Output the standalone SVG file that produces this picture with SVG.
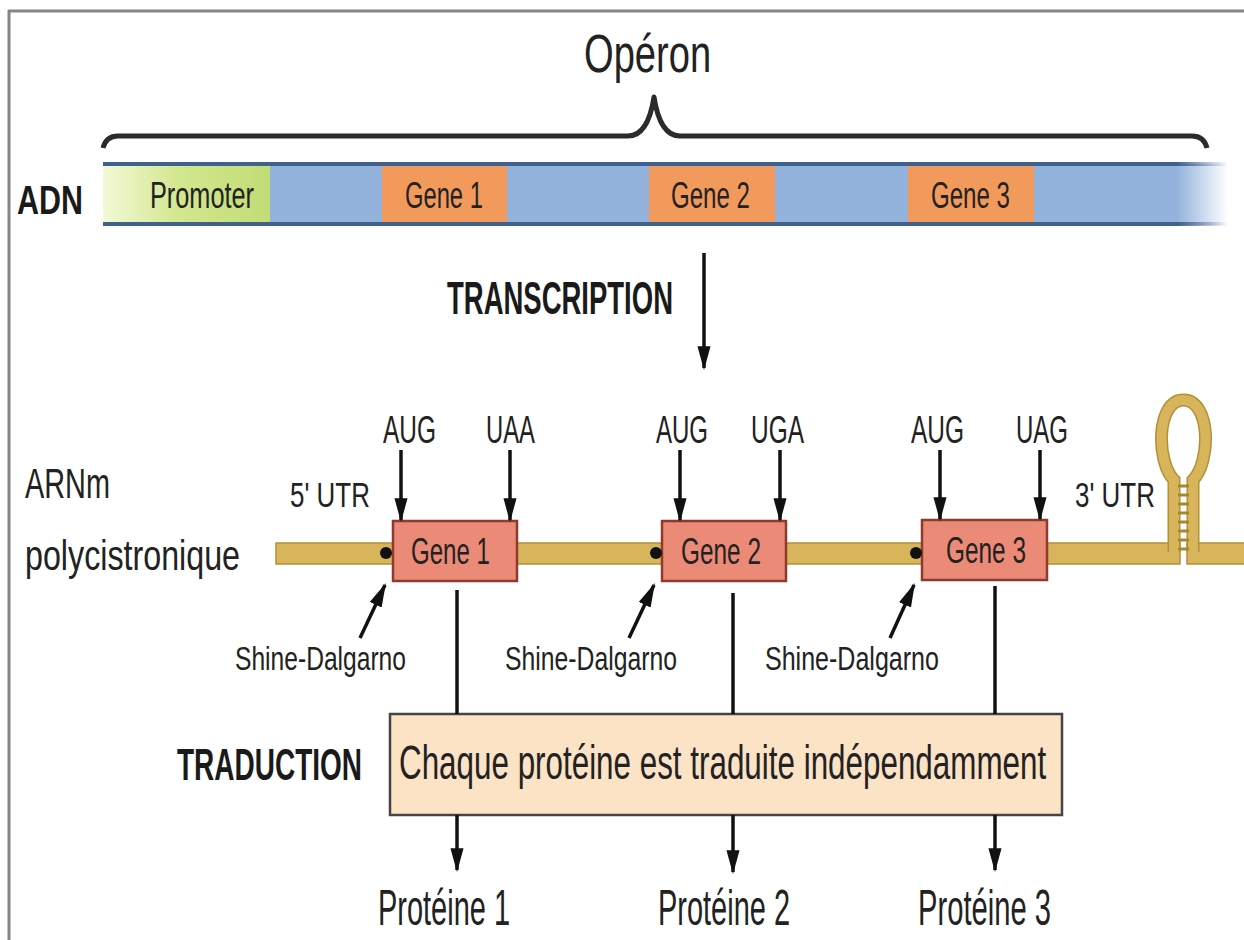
<svg xmlns="http://www.w3.org/2000/svg" width="1244" height="940" viewBox="0 0 1244 940">
<style>
.lbl{font-family:"Liberation Sans",Arial,sans-serif;fill:#222}
.bold{font-family:"Liberation Sans",Arial,sans-serif;font-weight:bold;fill:#1a1a1a}
.arr{stroke:#111;stroke-width:3.5;fill:none;marker-end:url(#ah)}
.line{stroke:#111;stroke-width:3.5;fill:none}
.gbox{fill:#ec8a78;stroke:#8e3a2c;stroke-width:2.5}
.dgene{fill:#f29a5c}
</style>
<defs>
<marker id="ah" markerUnits="userSpaceOnUse" markerWidth="24" markerHeight="16" viewBox="0 -7 22 14" refX="20" refY="0" orient="auto">
<path d="M0,-6 L22,0 L0,6 z" fill="#111"/>
</marker>
<linearGradient id="dnaG" gradientUnits="userSpaceOnUse" x1="103" y1="0" x2="1228" y2="0">
<stop offset="0" stop-color="#94b3dc"/>
<stop offset="0.955" stop-color="#94b3dc"/>
<stop offset="1" stop-color="#94b3dc" stop-opacity="0"/>
</linearGradient>
<linearGradient id="edgeG" gradientUnits="userSpaceOnUse" x1="103" y1="0" x2="1228" y2="0">
<stop offset="0" stop-color="#40618f"/>
<stop offset="0.955" stop-color="#40618f"/>
<stop offset="1" stop-color="#40618f" stop-opacity="0"/>
</linearGradient>
<linearGradient id="promG" gradientUnits="userSpaceOnUse" x1="103" y1="0" x2="270" y2="0">
<stop offset="0" stop-color="#f3f8d6"/>
<stop offset="0.45" stop-color="#d3e78f"/>
<stop offset="1" stop-color="#c2dc76"/>
</linearGradient>
</defs>

<rect width="1244" height="940" fill="#fff"/>
<g id="frame">
<line x1="8" y1="11" x2="1244" y2="11" stroke="#858585" stroke-width="3"/>
<line x1="9" y1="10" x2="9" y2="940" stroke="#858585" stroke-width="3"/>
</g>

<g id="operon">
<text class="lbl" transform="translate(584,72) scale(0.718,1)" font-size="53" textLength="177" lengthAdjust="spacingAndGlyphs">Opéron</text>
<path d="M103,148 Q106,136 118,136 L628,136 Q648,136 654,97 Q660,136 680,136 L1192,136 Q1204,136 1207,148" fill="none" stroke="#2b2b2b" stroke-width="5" stroke-linejoin="round"/>
</g>

<g id="adn">
<text class="bold" transform="translate(17,214) scale(0.762,1)" font-size="40" textLength="86.6" lengthAdjust="spacingAndGlyphs">ADN</text>
<rect x="103" y="164" width="1125" height="61" fill="url(#dnaG)"/>
<rect x="103" y="164" width="167" height="61" fill="url(#promG)"/>
<rect class="dgene" x="382" y="164" width="125" height="61"/>
<rect class="dgene" x="649" y="164" width="126" height="61"/>
<rect class="dgene" x="908" y="164" width="126" height="61"/>
<rect x="103" y="162" width="1125" height="4" fill="url(#edgeG)"/>
<rect x="103" y="222" width="1125" height="4" fill="url(#edgeG)"/>
<text class="lbl" transform="translate(150,208) scale(0.703,1)" font-size="36" textLength="148" lengthAdjust="spacingAndGlyphs" fill="#2b3315">Promoter</text>
<text class="lbl" transform="translate(405,208) scale(0.66,1)" font-size="36" textLength="118" lengthAdjust="spacingAndGlyphs">Gene 1</text>
<text class="lbl" transform="translate(671,208) scale(0.66,1)" font-size="36" textLength="119.7" lengthAdjust="spacingAndGlyphs">Gene 2</text>
<text class="lbl" transform="translate(931,208) scale(0.66,1)" font-size="36" textLength="119.7" lengthAdjust="spacingAndGlyphs">Gene 3</text>
</g>

<g id="transcription">
<text class="bold" transform="translate(447,314) scale(0.573,1)" font-size="47" textLength="394.4" lengthAdjust="spacingAndGlyphs">TRANSCRIPTION</text>
</g>

<g id="arnm">
<text class="lbl" transform="translate(25,498) scale(0.688,1)" font-size="42" textLength="123.5" lengthAdjust="spacingAndGlyphs">ARNm</text>
<text class="lbl" transform="translate(25,570) scale(0.768,1)" font-size="42" textLength="280" lengthAdjust="spacingAndGlyphs">polycistronique</text>
<rect x="276" y="543" width="904" height="21" fill="#d8b45b" stroke="#b48f38" stroke-width="1.5"/>
<rect x="1187" y="543" width="60" height="21" fill="#d8b45b" stroke="#b48f38" stroke-width="1.5"/>
<path d="M1174,552 L1174,480 C1156,462 1156,400 1183.5,400 C1211,400 1211,462 1193,480 L1193,552" fill="none" stroke="#b48f38" stroke-width="13"/>
<path d="M1174,556 L1174,480 C1156,462 1156,400 1183.5,400 C1211,400 1211,462 1193,480 L1193,556" fill="none" stroke="#d8b45b" stroke-width="10"/>
<g stroke="#a9852f" stroke-width="3">
<line x1="1178" y1="486" x2="1189" y2="486"/>
<line x1="1178" y1="495" x2="1189" y2="495"/>
<line x1="1178" y1="504" x2="1189" y2="504"/>
<line x1="1178" y1="513" x2="1189" y2="513"/>
<line x1="1178" y1="522" x2="1189" y2="522"/>
<line x1="1178" y1="531" x2="1189" y2="531"/>
<line x1="1178" y1="540" x2="1189" y2="540"/>
<line x1="1178" y1="549" x2="1189" y2="549"/>
</g>
<text class="lbl" transform="translate(290,507) scale(0.72,1)" font-size="36" textLength="111" lengthAdjust="spacingAndGlyphs">5' UTR</text>
<text class="lbl" transform="translate(1075,507) scale(0.72,1)" font-size="36" textLength="111" lengthAdjust="spacingAndGlyphs">3' UTR</text>
</g>

<g id="gene1">
<rect class="gbox" x="393" y="521" width="124" height="60"/>
<text class="lbl" transform="translate(411,564) scale(0.65,1)" font-size="37" textLength="121.5" lengthAdjust="spacingAndGlyphs" fill="#5a1e14">Gene 1</text>
<circle cx="386" cy="553" r="6" fill="#111"/>
<text class="lbl" transform="translate(383,443) scale(0.627,1)" font-size="39" textLength="84.5" lengthAdjust="spacingAndGlyphs">AUG</text>
<text class="lbl" transform="translate(486,443) scale(0.611,1)" font-size="39" textLength="80.2" lengthAdjust="spacingAndGlyphs">UAA</text>
<text class="lbl" transform="translate(235,670) scale(0.746,1)" font-size="33" textLength="229.2" lengthAdjust="spacingAndGlyphs" fill="#333">Shine-Dalgarno</text>
</g>

<g id="gene2">
<rect class="gbox" x="662" y="521" width="124" height="60"/>
<text class="lbl" transform="translate(681,564) scale(0.65,1)" font-size="37" textLength="123" lengthAdjust="spacingAndGlyphs" fill="#5a1e14">Gene 2</text>
<circle cx="656" cy="553" r="6" fill="#111"/>
<text class="lbl" transform="translate(656,443) scale(0.627,1)" font-size="39" textLength="83" lengthAdjust="spacingAndGlyphs">AUG</text>
<text class="lbl" transform="translate(751,443) scale(0.627,1)" font-size="39" textLength="84.5" lengthAdjust="spacingAndGlyphs">UGA</text>
<text class="lbl" transform="translate(505,670) scale(0.746,1)" font-size="33" textLength="230.5" lengthAdjust="spacingAndGlyphs" fill="#333">Shine-Dalgarno</text>
</g>

<g id="gene3">
<rect class="gbox" x="922" y="520" width="125" height="60"/>
<text class="lbl" transform="translate(946,563) scale(0.65,1)" font-size="37" textLength="123" lengthAdjust="spacingAndGlyphs" fill="#5a1e14">Gene 3</text>
<circle cx="916" cy="553" r="6" fill="#111"/>
<text class="lbl" transform="translate(911,443) scale(0.627,1)" font-size="39" textLength="84.5" lengthAdjust="spacingAndGlyphs">AUG</text>
<text class="lbl" transform="translate(1016,443) scale(0.627,1)" font-size="39" textLength="83" lengthAdjust="spacingAndGlyphs">UAG</text>
<text class="lbl" transform="translate(765,670) scale(0.746,1)" font-size="33" textLength="233.2" lengthAdjust="spacingAndGlyphs" fill="#333">Shine-Dalgarno</text>
</g>

<g id="traduction">
<text class="bold" transform="translate(177,780) scale(0.622,1)" font-size="45" textLength="297.4" lengthAdjust="spacingAndGlyphs">TRADUCTION</text>
<rect x="390" y="714" width="672" height="101" fill="#fde3c6" stroke="#444" stroke-width="2.5"/>
<text class="lbl" transform="translate(399,779) scale(0.655,1)" font-size="48" textLength="988" lengthAdjust="spacingAndGlyphs" fill="#1a1a1a">Chaque protéine est traduite indépendamment</text>
</g>

<g id="proteins">
<text class="lbl" transform="translate(378,925) scale(0.579,1)" font-size="50" textLength="228" lengthAdjust="spacingAndGlyphs" fill="#1a1a1a">Protéine 1</text>
<text class="lbl" transform="translate(658,925) scale(0.579,1)" font-size="50" textLength="228" lengthAdjust="spacingAndGlyphs" fill="#1a1a1a">Protéine 2</text>
<text class="lbl" transform="translate(918,925) scale(0.579,1)" font-size="50" textLength="229.7" lengthAdjust="spacingAndGlyphs" fill="#1a1a1a">Protéine 3</text>
</g>

<g id="connectors">
<line class="arr" x1="704" y1="253" x2="704" y2="368"/>
<line class="arr" x1="401" y1="450" x2="401" y2="520"/>
<line class="arr" x1="510" y1="450" x2="510" y2="520"/>
<line class="arr" x1="680" y1="450" x2="680" y2="520"/>
<line class="arr" x1="780" y1="450" x2="780" y2="520"/>
<line class="arr" x1="940" y1="450" x2="940" y2="519"/>
<line class="arr" x1="1040" y1="450" x2="1040" y2="519"/>
<line class="arr" x1="360" y1="638" x2="385" y2="585"/>
<line class="arr" x1="629" y1="638" x2="654" y2="585"/>
<line class="arr" x1="890" y1="638" x2="914" y2="585"/>
<line class="line" x1="457" y1="590" x2="457" y2="714"/>
<line class="line" x1="733" y1="593" x2="733" y2="714"/>
<line class="line" x1="995" y1="586" x2="995" y2="714"/>
<line class="arr" x1="457" y1="815" x2="457" y2="870"/>
<line class="arr" x1="733" y1="815" x2="733" y2="872"/>
<line class="arr" x1="995" y1="815" x2="995" y2="870"/>
</g>
</svg>
